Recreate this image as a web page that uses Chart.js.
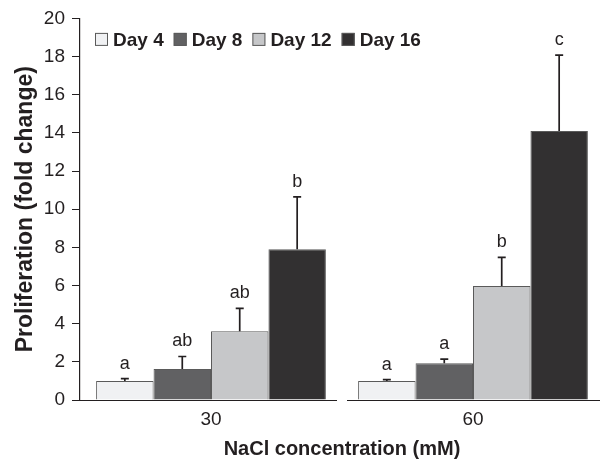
<!DOCTYPE html>
<html>
<head>
<meta charset="utf-8">
<script src="https://cdn.jsdelivr.net/npm/chart.js@4/dist/chart.umd.min.js"></script>
<style>
html,body{margin:0;padding:0;background:#fff;}
#wrap{width:606px;height:462px;}
</style>
</head>
<body>
<div id="wrap"><canvas id="c" width="606" height="462"></canvas></div>
<script>
const categories = ['30', '60'];
const seriesNames = ['Day 4', 'Day 8', 'Day 12', 'Day 16'];
const day4 = [1.0, 1.0];
const day8 = [1.63, 1.93];
const day12 = [3.6, 5.97];
const day16 = [7.9, 14.1];
const day4Err = [0.12, 0.07];
const day8Err = [0.65, 0.21];
const day12Err = [1.2, 1.5];
const day16Err = [2.75, 3.97];
const day4Letters = ['a', 'a'];
const day8Letters = ['ab', 'a'];
const day12Letters = ['ab', 'b'];
const day16Letters = ['b', 'c'];
const yTicks = [0, 2, 4, 6, 8, 10, 12, 14, 16, 18, 20];

const colors = ['#f0f1f3', '#616163', '#c6c7c9', '#323031'];
const ink = '#231f20';
const FONT = '"Liberation Sans", Arial, sans-serif';
const values = [day4, day8, day12, day16];
const errs = [day4Err, day8Err, day12Err, day16Err];
const letters = [day4Letters, day8Letters, day12Letters, day16Letters];

const errPlugin = {
  id: 'errBars',
  afterDatasetsDraw(chart) {
    const ctx = chart.ctx;
    const ys = chart.scales.y;
    ctx.save();
    ctx.strokeStyle = ink;
    ctx.fillStyle = ink;
    ctx.lineWidth = 1.7;
    ctx.font = '18px ' + FONT;
    ctx.textAlign = 'center';
    ctx.textBaseline = 'alphabetic';
    chart.data.datasets.forEach((ds, di) => {
      const meta = chart.getDatasetMeta(di);
      meta.data.forEach((el, i) => {
        const v = ds.data[i];
        const top = ys.getPixelForValue(v + errs[di][i]);
        const x = el.x;
        ctx.beginPath();
        ctx.moveTo(x, el.y);
        ctx.lineTo(x, top);
        ctx.moveTo(x - 4, top);
        ctx.lineTo(x + 4, top);
        ctx.stroke();
        ctx.fillText(letters[di][i], x, top - 10);
      });
    });
    ctx.restore();
  }
};

const baselinePlugin = {
  id: 'baseline',
  afterDatasetsDraw(chart) {
    const ctx = chart.ctx;
    const xs = chart.scales.x;
    const ys = chart.scales.y;
    const y0 = Math.round(ys.getPixelForValue(0)) + 0.5;
    const n = categories.length;
    const cw = (xs.right - xs.left) / n;
    ctx.save();
    ctx.strokeStyle = ink;
    ctx.lineWidth = 1.2;
    for (let i = 0; i < n; i++) {
      const c = xs.getPixelForValue(i);
      const l = c - cw / 2 + (i > 0 ? 5 : 0);
      const r = c + cw / 2 - (i < n - 1 ? 5 : 4);
      ctx.beginPath();
      ctx.moveTo(l, y0);
      ctx.lineTo(r, y0);
      ctx.stroke();
    }
    ctx.restore();
  }
};

const legendPlugin = {
  id: 'rowLegend',
  afterDraw(chart) {
    const ctx = chart.ctx;
    const area = chart.chartArea;
    let x = area.left + 15;
    const cy = area.top + 21;
    const box = 13;
    ctx.save();
    ctx.font = 'bold 19px ' + FONT;
    ctx.textBaseline = 'middle';
    ctx.textAlign = 'left';
    chart.data.datasets.forEach((ds) => {
      ctx.fillStyle = ds.backgroundColor;
      ctx.fillRect(x, cy - box / 2, box, box);
      ctx.strokeStyle = '#5a5a5a';
      ctx.lineWidth = 1;
      ctx.strokeRect(x + 0.5, cy - box / 2 + 0.5, box - 1, box - 1);
      x += box + 5;
      ctx.fillStyle = ink;
      ctx.fillText(ds.label, x, cy + 1);
      x += ctx.measureText(ds.label).width + 10;
    });
    ctx.restore();
  }
};

new Chart(document.getElementById('c'), {
  type: 'bar',
  data: {
    labels: categories,
    datasets: seriesNames.map((name, i) => ({
      label: name,
      data: values[i],
      backgroundColor: colors[i],
      borderColor: '#5a5a5a',
      borderWidth: 1,
      borderSkipped: 'bottom',
      barPercentage: 1.0,
      categoryPercentage: 0.877
    }))
  },
  options: {
    responsive: false,
    animation: false,
    layout: { padding: { top: 18, right: 2, left: 0, bottom: 0 } },
    plugins: {
      tooltip: { enabled: false },
      legend: { display: false }
    },
    scales: {
      x: {
        grid: { display: false, drawTicks: false },
        border: { display: false },
        ticks: {
          color: ink,
          padding: 8,
          font: { family: FONT, size: 19 }
        },
        title: {
          display: true,
          text: 'NaCl concentration (mM)',
          color: ink,
          padding: { top: 4, bottom: 1 },
          font: { family: FONT, size: 20, weight: 'bold' }
        },
        afterFit(s) { s.height = 62; }
      },
      y: {
        min: 0,
        max: 20,
        afterBuildTicks(s) { s.ticks = yTicks.map(v => ({ value: v })); },
        grid: { display: true, drawOnChartArea: false, drawTicks: true, tickLength: 8, color: ink },
        border: { display: true, color: ink, width: 1.2 },
        ticks: {
          color: ink,
          padding: 7,
          font: { family: FONT, size: 19 }
        },
        title: {
          display: true,
          text: 'Proliferation (fold change)',
          color: ink,
          padding: { top: 12, bottom: 4 },
          font: { family: FONT, size: 23, weight: 'bold' }
        },
        afterFit(s) { s.width = 80; }
      }
    }
  },
  plugins: [errPlugin, baselinePlugin, legendPlugin]
});
</script>
</body>
</html>
